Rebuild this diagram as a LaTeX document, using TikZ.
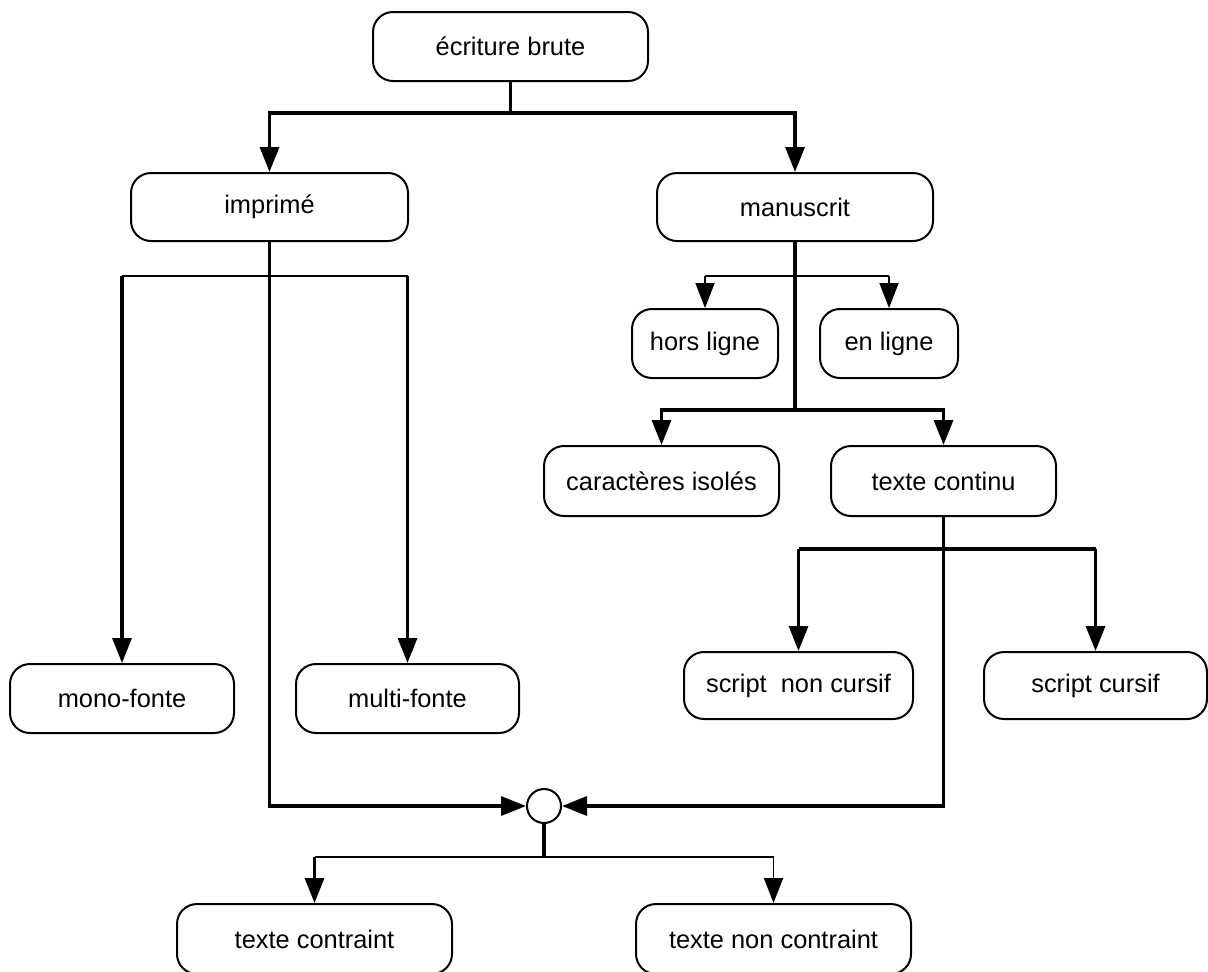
\documentclass[tikz,border=0pt]{standalone}
\usepackage{fontspec}
\setmainfont{Liberation Sans}
\usetikzlibrary{arrows.meta}
\begin{document}
\begin{tikzpicture}[x=0.5pt,y=-0.5pt,
  box/.style={draw,line width=1pt,rounded corners=10pt,inner sep=0pt,
    font=\fontsize{12.7}{15}\selectfont},
  conn/.style={line width=1.6pt},
  thinconn/.style={line width=0.85pt},
  tip/.style={-{Triangle[length=12.5pt,width=9.5pt]}},
  junction/.style={draw,circle,line width=1pt,minimum size=17pt,inner sep=0pt}]
\useasboundingbox (0,0) rectangle (1208,971);
% nodes
\node[box,minimum width=137.5pt,minimum height=34.5pt] (ecr) at (510.5,46.5) {écriture brute};
\node[box,minimum width=138.5pt,minimum height=34pt] (imp) at (269.5,207) {imprimé};
\node[box,minimum width=138pt,minimum height=34pt] (man) at (795,207) {manuscrit};
\node[box,minimum width=73pt,minimum height=34.5pt] (hors) at (705,343.5) {hors ligne};
\node[box,minimum width=69pt,minimum height=34.5pt] (enl) at (889,343.5) {en ligne};
\node[box,minimum width=117.5pt,minimum height=35pt] (car) at (661.5,481) {caractères isolés};
\node[box,minimum width=112.5pt,minimum height=35pt] (tc) at (943.5,481) {texte continu};
\node[box,minimum width=112pt,minimum height=34.5pt] (mono) at (122,698.5) {mono-fonte};
\node[box,minimum width=111.5pt,minimum height=34.5pt] (multi) at (407.5,698.5) {multi-fonte};
\node[box,minimum width=114.5pt,minimum height=33.5pt] (snc) at (798.5,685.5) {script\ \ non cursif};
\node[box,minimum width=111.5pt,minimum height=33.5pt] (sc) at (1095.5,685.5) {script cursif};
\node[junction] (circ) at (544,806) {};
\node[box,minimum width=137.5pt,minimum height=35pt] (tcon) at (314.5,939) {texte contraint};
\node[box,minimum width=137.5pt,minimum height=35pt] (tnc) at (773.5,939) {texte non contraint};
% junction coordinates
\coordinate (j1) at (510.5,113);
\coordinate (ib) at (270,276);
\coordinate (mb) at (795,276);
\coordinate (mc) at (795,410);
\coordinate (tb) at (943,549);
\coordinate (cb) at (544,857);
% connectors
\draw[conn] (ecr.south) -- (j1);
\draw[conn,tip] (j1) -| (imp.north);
\draw[conn,tip] (j1) -| (man.north);
\draw[conn,tip] (imp.south) |- (circ.west);
\draw[thinconn] (mono.north |- ib) -- (multi.north |- ib);
\draw[conn,tip] (mono.north |- ib) -- (mono.north);
\draw[conn,tip] (multi.north |- ib) -- (multi.north);
\draw[conn] (man.south) -- (mc);
\draw[thinconn] (hors.north |- mb) -- (enl.north |- mb);
\draw[thinconn,tip] (hors.north |- mb) -- (hors.north);
\draw[thinconn,tip] (enl.north |- mb) -- (enl.north);
\draw[conn,tip] (mc) -| (car.north);
\draw[conn,tip] (mc) -| (tc.north);
\draw[conn,tip] (tc.south) |- (circ.east);
\draw[conn] (snc.north |- tb) -- (sc.north |- tb);
\draw[conn,tip] (snc.north |- tb) -- (snc.north);
\draw[conn,tip] (sc.north |- tb) -- (sc.north);
\draw[conn] (circ.south) -- (cb);
\draw[thinconn] (tcon.north |- cb) -- (tnc.north |- cb);
\draw[conn,tip] (tcon.north |- cb) -- (tcon.north);
\draw[thinconn,tip] (tnc.north |- cb) -- (tnc.north);
\end{tikzpicture}
\end{document}
